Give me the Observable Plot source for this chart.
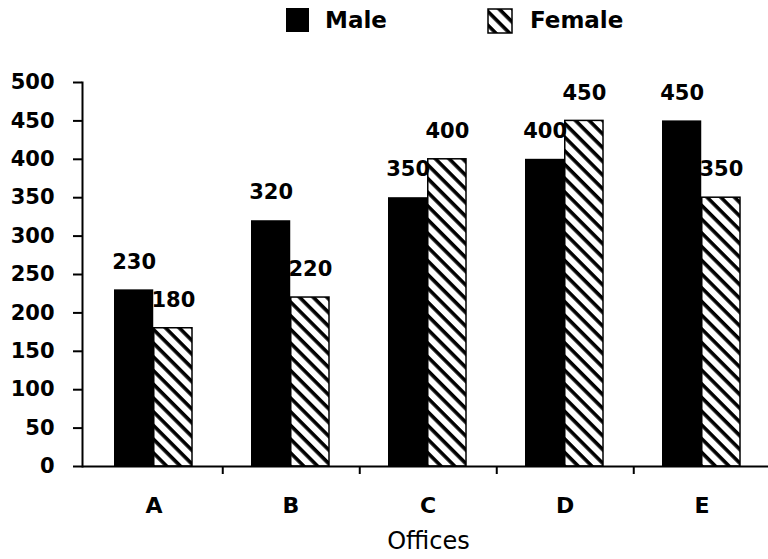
<!DOCTYPE html>
<html>
<head>
<meta charset="utf-8">
<script src="https://cdn.jsdelivr.net/npm/d3@7"></script>
<script src="https://cdn.jsdelivr.net/npm/@observablehq/plot@0.6"></script>
<style>
  html, body { margin: 0; padding: 0; background: #fff; color: #000; overflow: hidden; }
  #legend { position: relative; height: 50px; width: 768px; font-family: "DejaVu Sans", sans-serif; font-weight: bold; font-size: 23px; }
  #legend .sw { position: absolute; top: 8px; }
  #legend .lab { position: absolute; top: 8px; line-height: 25px; }
</style>
</head>
<body>
<div id="legend">
  <div class="sw" style="left:286px;width:23px;height:24px;background:#000"></div>
  <span class="lab" style="left:325px">Male</span>
  <svg class="sw" style="left:487px" width="26" height="26">
    <defs>
      <pattern id="hatchL" patternUnits="userSpaceOnUse" width="9.7" height="9.7" patternTransform="rotate(45)">
        <rect width="9.7" height="9.7" fill="#fff"></rect>
        <rect width="9.7" height="3.6" fill="#000"></rect>
      </pattern>
    </defs>
    <rect x="1" y="1" width="24" height="24" fill="url(#hatchL)" stroke="#000" stroke-width="1.5"></rect>
  </svg>
  <span class="lab" style="left:530px">Female</span>
</div>
<div id="chart"></div>
<script>
const offices = ["A", "B", "C", "D", "E"];
const male = [230, 320, 350, 400, 450];
const female = [180, 220, 400, 450, 350];
const yTicks = [0, 50, 100, 150, 200, 250, 300, 350, 400, 450, 500];
const xTitle = "Offices";

const rows = offices.map((o, i) => ({office: o, male: male[i], female: female[i]}));

const x0 = 83.6, x1 = 771.2;
const bw = (x1 - x0) / offices.length;
const maleInL = 29, femInR = 30;
const maleDx = (maleInL + bw / 2) / 2 - bw / 2;
const femDx = (bw / 2 + (bw - femInR)) / 2 - bw / 2;

const chart = Plot.plot({
  width: 768,
  height: 509,
  marginTop: 32,
  marginBottom: 93,
  marginLeft: 82,
  marginRight: 0,
  style: {fontFamily: "DejaVu Sans", background: "#fff", color: "#000"},
  x: {domain: offices, range: [x0, x1], padding: 0, label: null},
  y: {domain: [0, 500], label: null},
  marks: [
    Plot.barY(rows, {x: "office", y: "male", fill: "#000", insetLeft: maleInL, insetRight: bw / 2}),
    Plot.barY(rows, {x: "office", y: "female", fill: "url(#hatch)", stroke: "#000", strokeWidth: 1.5, insetLeft: bw / 2, insetRight: femInR}),
    Plot.text(rows, {x: "office", y: "male", text: d => String(d.male), dx: maleDx, dy: -28, fontSize: 21, fontWeight: "bold", fill: "#000"}),
    Plot.text(rows, {x: "office", y: "female", text: d => String(d.female), dx: femDx, dy: -28, fontSize: 21, fontWeight: "bold", fill: "#000"}),
    Plot.axisY(yTicks, {tickSize: 9, tickPadding: 19, fontSize: 21, fontWeight: "bold", strokeWidth: 2, tickFormat: d => String(d), label: null}),
    Plot.axisX({tickSize: 0, tickPadding: 31, fontSize: 22, fontWeight: "bold", label: null}),
    Plot.tickX(offices.slice(0, offices.length - 1), {x: d => d, dx: bw / 2, insetTop: 384, insetBottom: -8, strokeWidth: 2}),
    Plot.frame({anchor: "left", strokeWidth: 2}),
    Plot.ruleY([0], {strokeWidth: 2}),
    Plot.text([xTitle], {frameAnchor: "bottom", lineAnchor: "bottom", dy: 82, dx: 3, fontSize: 24, fontWeight: "normal", fill: "#000"})
  ]
});

const defs = d3.select(chart).insert("defs", ":first-child");
const pat = defs.append("pattern")
  .attr("id", "hatch")
  .attr("patternUnits", "userSpaceOnUse")
  .attr("width", 9.7).attr("height", 9.7)
  .attr("patternTransform", "rotate(45)");
pat.append("rect").attr("width", 9.7).attr("height", 9.7).attr("fill", "#fff");
pat.append("rect").attr("width", 9.7).attr("height", 3.6).attr("fill", "#000");

document.getElementById("chart").appendChild(chart);
</script>
</body>
</html>
